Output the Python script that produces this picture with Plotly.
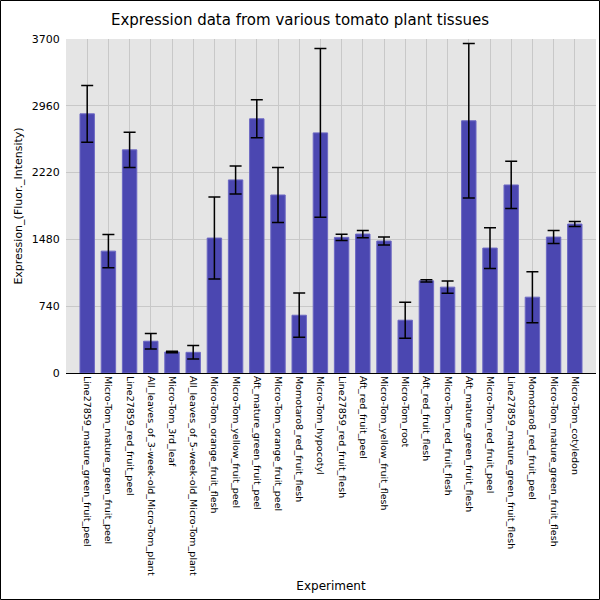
import plotly.graph_objects as go

categories = [
    "Line27859_mature_green_fruit_peel",
    "Micro-Tom_mature_green_fruit_peel",
    "Line27859_red_fruit_peel",
    "All_leaves_of_3-week-old_Micro-Tom_plant",
    "Micro-Tom_3rd_leaf",
    "All_leaves_of_5-week-old_Micro-Tom_plant",
    "Micro-Tom_orange_fruit_flesh",
    "Micro-Tom_yellow_fruit_peel",
    "Aft_mature_green_fruit_peel",
    "Micro-Tom_orange_fruit_peel",
    "Momotaro8_red_fruit_flesh",
    "Micro-Tom_hypocotyl",
    "Line27859_red_fruit_flesh",
    "Aft_red_fruit_peel",
    "Micro-Tom_yellow_fruit_flesh",
    "Micro-Tom_root",
    "Aft_red_fruit_flesh",
    "Micro-Tom_red_fruit_flesh",
    "Aft_mature_green_fruit_flesh",
    "Micro-Tom_red_fruit_peel",
    "Line27859_mature_green_fruit_flesh",
    "Momotaro8_red_fruit_peel",
    "Micro-Tom_mature_green_fruit_flesh",
    "Micro-Tom_cotyledon",
]

values = [2871, 1350, 2472, 352, 233, 229, 1495, 2139, 2816, 1972, 640, 2660,
          1502, 1539, 1462, 585, 1021, 951, 2794, 1384, 2083, 840, 1506, 1650]

errors = [315, 185, 195, 85, 8, 75, 455, 155, 210, 305, 245, 935,
          35, 40, 45, 200, 12, 67, 855, 225, 262, 283, 72, 28]

y_ticks = [0, 740, 1480, 2220, 2960, 3700]

W, H = 600, 600
ML, MR, MT, MB = 66, 4, 39, 227
PW, PH = W - ML - MR, H - MT - MB

fig = go.Figure()
fig.add_trace(go.Bar(
    x=categories,
    y=values,
    marker=dict(color="#4B47B1", line=dict(color="#6D69C3", width=1)),
    error_y=dict(type="data", array=errors, visible=True,
                 color="black", thickness=1.5, width=6),
))

fig.update_layout(
    width=W, height=H,
    margin=dict(l=ML, r=MR, t=MT, b=MB),
    paper_bgcolor="white",
    plot_bgcolor="#E5E5E5",
    font=dict(family="DejaVu Sans", color="black"),
    title=dict(text="Expression data from various tomato plant tissues",
               x=0.5, xanchor="center", y=1 - 20 / H, yanchor="middle",
               font=dict(size=15, family="DejaVu Sans", color="black")),
    bargap=0.32,
    showlegend=False,
    shapes=[dict(type="rect", xref="paper", yref="paper",
                 x0=(-ML + 0.5) / PW, x1=1 + (MR - 0.5) / PW,
                 y0=(-MB + 0.5) / PH, y1=1 + (MT - 0.5) / PH,
                 line=dict(color="black", width=1), fillcolor="rgba(0,0,0,0)")],
)

fig.update_xaxes(
    type="category",
    range=[-1, len(categories)],
    tickangle=90,
    tickfont=dict(size=9.5, family="DejaVu Sans"),
    showgrid=True, gridcolor="#C8C8C8", gridwidth=1,
    showline=True, linecolor="black", linewidth=1,
    ticks="",
    title=dict(text="Experiment", font=dict(size=12), standoff=6),
)

fig.update_yaxes(
    range=[0, 3700],
    tickvals=y_ticks,
    ticktext=[str(v) for v in y_ticks],
    tickfont=dict(size=11, family="DejaVu Sans"),
    showgrid=True, gridcolor="#C8C8C8", gridwidth=1,
    zeroline=False,
    showline=False,
    ticks="outside", ticklen=3, tickcolor="rgba(0,0,0,0)",
    title=dict(text="Expression_(Fluor._Intensity)", font=dict(size=11), standoff=6),
)

fig.write_html(
    "out.html",
    config={"displayModeBar": False},
    post_script="document.body.style.margin='0';document.body.style.padding='0';",
)
